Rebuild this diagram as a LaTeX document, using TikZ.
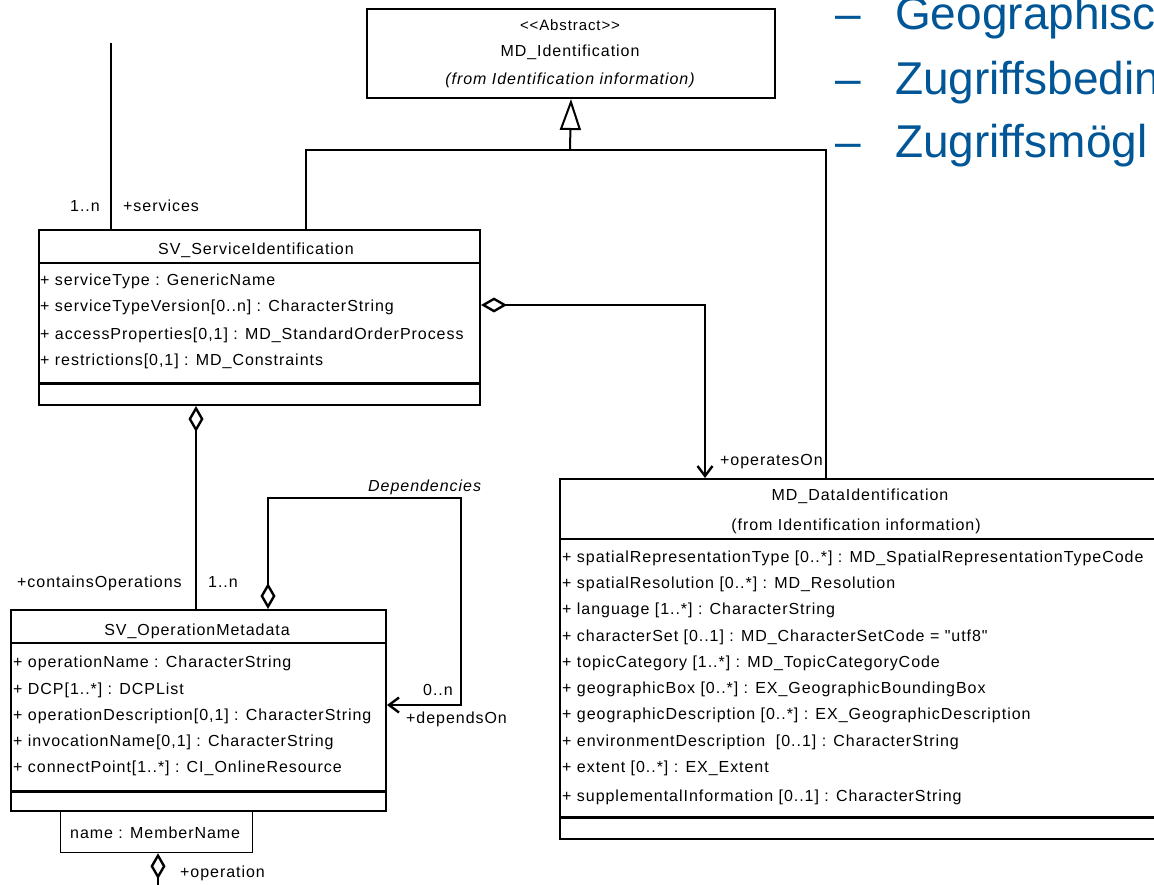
\documentclass[tikz,border=0pt]{standalone}
\usepackage{fontspec}
\setmainfont{Liberation Sans}
\newfontfamily\umlfont[LetterSpace=6]{Liberation Sans}
\usetikzlibrary{arrows.meta,calc}
\definecolor{slideblue}{RGB}{0,86,150}

\begin{document}
\begin{tikzpicture}[x=1pt,y=-1pt,
  classbox/.style={draw, line width=2pt, inner sep=0pt, anchor=north west},
  sep/.style={line width=1.4pt},
  thicksep/.style={line width=3pt},
  conn/.style={line width=2pt},
  txt/.style={inner sep=0pt, anchor=base west, font=\umlfont\fontsize{16}{19}\selectfont},
  ctxt/.style={txt, anchor=base},
  itxt/.style={txt, font=\umlfont\itshape\fontsize{16}{19}\selectfont},
  slide/.style={inner sep=0pt, anchor=base west, text=slideblue, font=\fontsize{46}{50}\selectfont},
  uagg/.tip={Diamond[open,length=26pt,width=15pt,line width=2.4pt]},
  unav/.tip={Straight Barb[length=10pt,width=15pt,line width=2.4pt]},
  ugen/.tip={Triangle[open,length=31pt,width=21pt]},
]
\useasboundingbox (0,0) rectangle (1154,885);
\clip (0,0) rectangle (1154,885);

% ---------- MD_Identification ----------
\node[classbox, minimum width=408pt, minimum height=89pt] (ident) at (366,8) {};
\node[ctxt, font=\umlfont\fontsize{15}{17}\selectfont] (identSt) at (570,31) {<{}<Abstract>{}>};
\node[ctxt] (identName) at (570,57) {MD\_Identification};
\node[itxt, anchor=base] (identFrom) at (570,85) {(from Identification information)};

% ---------- SV_ServiceIdentification ----------
\node[classbox, minimum width=441pt, minimum height=175pt] (svc) at (38,229) {};
\draw[sep] ($(svc.north west)+(0,34)$) -- ($(svc.north east)+(0,34)$);
\draw[thicksep] ($(svc.north west)+(0,154)$) -- ($(svc.north east)+(0,154)$);
\node[ctxt] (svcName) at (256,255) {SV\_ServiceIdentification};
\node[txt] (svcA1) at (40,286) {+ serviceType : GenericName};
\node[txt] (svcA2) at (40,312) {+ serviceTypeVersion[0..n] : CharacterString};
\node[txt] (svcA3) at (40,339) {+ accessProperties[0,1] : MD\_StandardOrderProcess};
\node[txt] (svcA4) at (40,365) {+ restrictions[0,1] : MD\_Constraints};

% ---------- SV_OperationMetadata ----------
\node[classbox, minimum width=375pt, minimum height=201pt] (ops) at (10,609) {};
\draw[sep] ($(ops.north west)+(0,34)$) -- ($(ops.north east)+(0,34)$);
\draw[thicksep] ($(ops.north west)+(0,182)$) -- ($(ops.north east)+(0,182)$);
\node[ctxt] (opsName) at (197,635) {SV\_OperationMetadata};
\node[txt] (opsA1) at (13,667) {+ operationName : CharacterString};
\node[txt] (opsA2) at (13,694) {+ DCP[1..*] : DCPList};
\node[txt] (opsA3) at (13,720) {+ operationDescription[0,1] : CharacterString};
\node[txt] (opsA4) at (13,746) {+ invocationName[0,1] : CharacterString};
\node[txt] (opsA5) at (13,772) {+ connectPoint[1..*] : CI\_OnlineResource};

% qualifier box
\node[draw, line width=1.2pt, inner sep=0pt, anchor=north west,
      minimum width=192pt, minimum height=42pt] (nm) at (60,810) {};
\node[txt] (nmText) at (70,838) {name : MemberName};

% ---------- MD_DataIdentification ----------
\node[classbox, minimum width=620pt, minimum height=360pt] (data) at (559,478) {};
\draw[sep] ($(data.north west)+(0,61)$) -- ($(data.north east)+(0,61)$);
\draw[thicksep] ($(data.north west)+(0,339)$) -- ($(data.north east)+(0,339)$);
\node[ctxt] (dataName) at (860,500) {MD\_DataIdentification};
\node[ctxt] (dataFrom) at (856,530) {(from Identification information)};
\node[txt] (dA1) at (562,562) {+ spatialRepresentationType [0..*] : MD\_SpatialRepresentationTypeCode};
\node[txt] (dA2) at (562,588) {+ spatialResolution [0..*] : MD\_Resolution};
\node[txt] (dA3) at (562,614) {+ language [1..*] : CharacterString};
\node[txt] (dA4) at (562,641) {+ characterSet [0..1] : MD\_CharacterSetCode = "utf8"};
\node[txt] (dA5) at (562,667) {+ topicCategory [1..*] : MD\_TopicCategoryCode};
\node[txt] (dA6) at (562,693) {+ geographicBox [0..*] : EX\_GeographicBoundingBox};
\node[txt] (dA7) at (562,719) {+ geographicDescription [0..*] : EX\_GeographicDescription};
\node[txt] (dA8) at (562,746) {+ environmentDescription\ \ [0..1] : CharacterString};
\node[txt] (dA9) at (562,772) {+ extent [0..*] : EX\_Extent};
\node[txt] (dA10) at (562,801) {+ supplementalInformation [0..1] : CharacterString};

% ---------- connectors ----------
% generalization
\coordinate (gen) at (570,150);
\draw[conn,-ugen] (gen) -- (ident.south);
\draw[conn] ($(svc.north west)+(268,0)$) |- (gen) -| ($(data.north west)+(267,0)$);

% services association (continues upward)
\coordinate (svcUp) at (111,43);
\draw[conn] (svcUp) -- ($(svc.north west)+(73,0)$);
\node[txt, anchor=base east] (lSvcMult) at (100,212) {1..n};
\node[txt] (lSvcRole) at (123,212) {+services};

% operatesOn
\draw[conn,uagg-unav] ($(svc.north east)+(0,76)$) -| ($(data.north west)+(146,0)$);
\node[txt] (lOperatesOn) at (720,465) {+operatesOn};

% containsOperations
\draw[conn,uagg-] ($(svc.south west)+(158,0)$) -- ($(ops.north west)+(186,0)$);
\node[txt] (lContains) at (17,587) {+containsOperations};
\node[txt] (lOpsMult) at (208,587) {1..n};

% dependencies (self association)
\coordinate (loop) at (461,498);
\draw[conn,uagg-unav] ($(ops.north west)+(258,0)$) |- (loop) |- ($(ops.north east)+(0,96)$);
\node[itxt] (lDeps) at (368,491) {Dependencies};
\node[txt] (lDepMult) at (423,695) {0..n};
\node[txt] (lDependsOn) at (406,723) {+dependsOn};

% operation (continues downward)
\coordinate (opEnd) at (158,905);
\draw[conn,uagg-] ($(nm.south west)+(98,0)$) -- (opEnd);
\node[txt] (lOperation) at (180,877) {+operation};

% ---------- slide bullet text ----------
\node[slide] (b1d) at (835,30) {\textendash};
\node[slide] (b1) at (895,30) {Geographisc};
\node[slide] (b2d) at (835,95) {\textendash};
\node[slide] (b2) at (895,95) {Zugriffsbedin};
\node[slide] (b3d) at (835,158) {\textendash};
\node[slide] (b3) at (895,158) {Zugriffsmögl};
\end{tikzpicture}
\end{document}
